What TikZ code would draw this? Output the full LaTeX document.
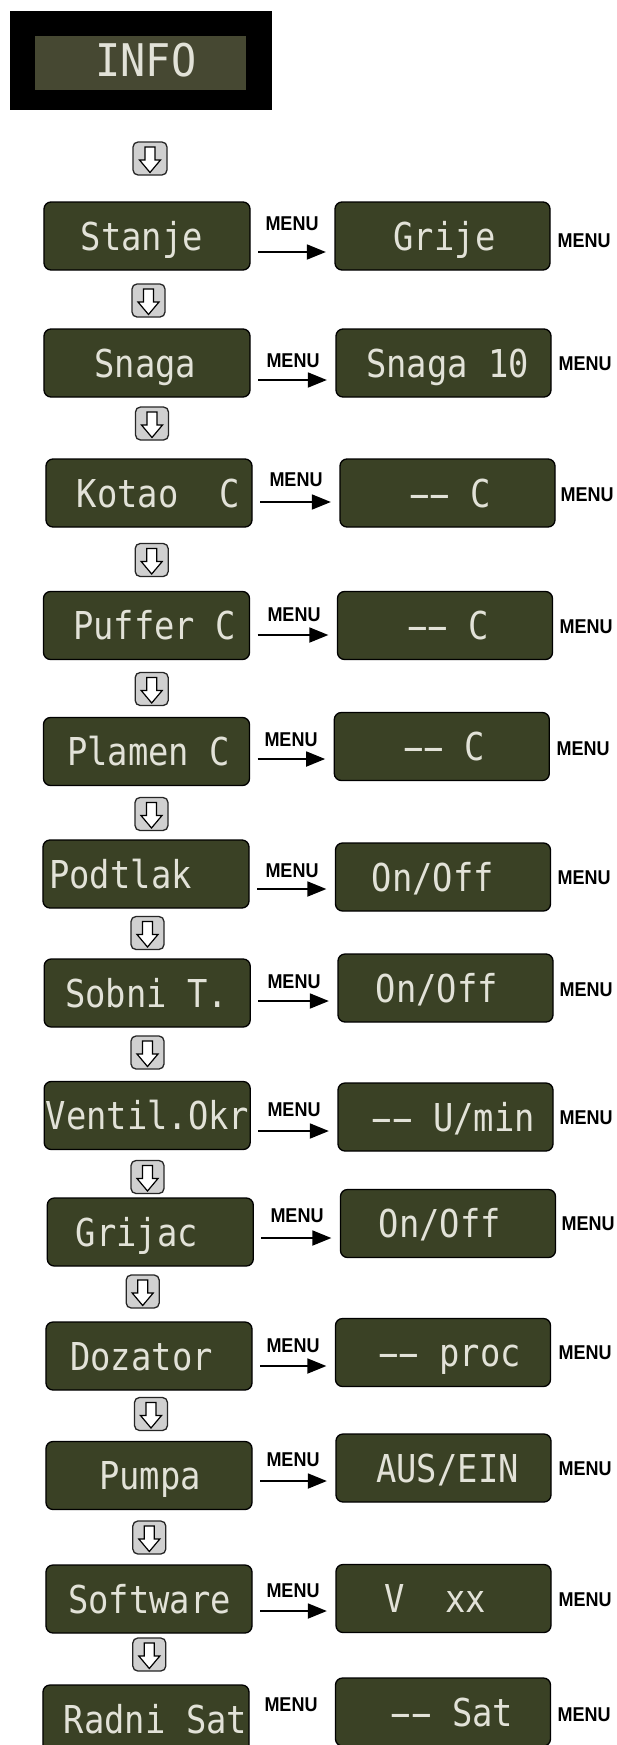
\documentclass[tikz,border=0pt]{standalone}
\usepackage{fontspec}
\usepackage{graphicx}
\usetikzlibrary{arrows.meta}
\newfontfamily\lcdfam[FakeStretch=0.88]{DejaVu Sans Mono}
\newfontfamily\infofam[FakeStretch=0.93]{DejaVu Sans Mono}
\newfontfamily\menufam[FakeStretch=0.9]{Liberation Sans Bold}
\newcommand\lcdfont{\lcdfam\fontsize{38.4bp}{40bp}\selectfont}
\newcommand\infofont{\infofam\fontsize{45bp}{48bp}\selectfont}
\newcommand\menufont{\menufam\fontsize{20bp}{22bp}\selectfont}
\newcommand\dsh{\makebox[20.34bp][c]{\scalebox{2.0}[1]{-}}}
\newcommand\dd{\dsh\dsh}
\definecolor{lcdgreen}{RGB}{58,65,37}
\definecolor{infogreen}{RGB}{70,72,50}
\definecolor{lcdtext}{RGB}{226,226,216}
\definecolor{btngray}{RGB}{208,208,208}
\tikzset{
  lbox/.style={rectangle, rounded corners=7bp, draw=black, line width=1.3bp,
    fill=lcdgreen, inner sep=0pt, minimum width=206bp, minimum height=68bp},
  rbox/.style={lbox, minimum width=215bp},
  lcdtxt/.style={anchor=base, inner sep=0pt, text=lcdtext, font=\lcdfont},
  infotxt/.style={anchor=base, inner sep=0pt, text=lcdtext, font=\infofont},
  menulbl/.style={font=\menufont, inner sep=0pt, anchor=center},
  menuarrow/.style={line width=1.8bp, -{Triangle[length=19bp,width=15bp]},
    shorten <=7.5bp, shorten >=8.5bp},
  downbtn/.style={rectangle, rounded corners=5bp, draw=black!85, line width=1.3bp,
    fill=btngray, minimum width=33bp, minimum height=33bp, inner sep=0pt,
    path picture={
      \draw[sharp corners, shift={(path picture bounding box.center)}, fill=white, draw=black,
        line width=1.2bp, line join=miter]
        (-5,-11.5) -- (5,-11.5) -- (5,1.5) -- (10.5,1.5) -- (0,14)
        -- (-10.5,1.5) -- (-5,1.5) -- cycle;
    }},
}
\begin{document}
\begin{tikzpicture}[x=1bp,y=-1bp]
\useasboundingbox (0,0) rectangle (617,1745);
\clip (0,0) rectangle (617,1745);
\fill[white] (0,0) rectangle (617,1745);

% INFO display
\node[rectangle, fill=black, minimum width=262bp, minimum height=99bp, inner sep=0pt] (INFO) at (141,60.5) {};
\node[rectangle, fill=infogreen, minimum width=211bp, minimum height=54bp, inner sep=0pt] (INFOin) at (140.5,63) {};
\node[infotxt] (INFOt) at (146,76.5) {INFO};

% down buttons
\node[downbtn, minimum width=34bp] (B0) at (150,158.5) {};
\node[downbtn] (B1) at (148.5,300.5) {};
\node[downbtn] (B2) at (152,423.5) {};
\node[downbtn] (B3) at (151.7,560) {};
\node[downbtn] (B4) at (151.7,689) {};
\node[downbtn] (B5) at (151.5,814) {};
\node[downbtn] (B6) at (147.5,933) {};
\node[downbtn] (B7) at (147.5,1052.5) {};
\node[downbtn] (B8) at (147.5,1177) {};
\node[downbtn] (B9) at (142.7,1291.5) {};
\node[downbtn] (B10) at (151,1414) {};
\node[downbtn] (B11) at (149.3,1537.5) {};
\node[downbtn] (B12) at (149.3,1654.5) {};

% row 1
\node[lbox] (L1) at (147,236) {};
\node[rbox] (R1) at (442.5,236) {};
\node[lcdtxt] (L1t) at (142,250) {Stanje};
\node[lcdtxt] (R1t) at (444.5,250) {Grije};
\draw[menuarrow] ([yshift=-16bp]L1.east) -- ([yshift=-16bp]L1.east -| R1.west);
\node[menulbl] (M1) at (292,224) {MENU};
\node[menulbl] (N1) at (584,241) {MENU};

% row 2
\node[lbox] (L2) at (147,363) {};
\node[rbox] (R2) at (443.5,363) {};
\node[lcdtxt] (L2t) at (145.4,377) {Snaga};
\node[lcdtxt] (R2t) at (447.6,377) {Snaga 10};
\draw[menuarrow] ([yshift=-17bp]L2.east) -- ([yshift=-17bp]L2.east -| R2.west);
\node[menulbl] (M2) at (293,361) {MENU};
\node[menulbl] (N2) at (585,364) {MENU};

% row 3
\node[lbox] (L3) at (149,493) {};
\node[rbox] (R3) at (447.5,493) {};
\node[lcdtxt] (L3t) at (158.3,507) {Kotao\ \ C};
\node[lcdtxt] (R3t) at (450,507) {\dd{} C};
\draw[menuarrow] ([yshift=-9bp]L3.east) -- ([yshift=-9bp]L3.east -| R3.west);
\node[menulbl] (M3) at (296,480) {MENU};
\node[menulbl] (N3) at (587,495) {MENU};

% row 4
\node[lbox] (L4) at (146.5,625.5) {};
\node[rbox] (R4) at (445,625.5) {};
\node[lcdtxt] (L4t) at (154.4,639.5) {Puffer C};
\node[lcdtxt] (R4t) at (448,639.5) {\dd{} C};
\draw[menuarrow] ([yshift=-9.5bp]L4.east) -- ([yshift=-9.5bp]L4.east -| R4.west);
\node[menulbl] (M4) at (294,615) {MENU};
\node[menulbl] (N4) at (586,627) {MENU};

% row 5
\node[lbox] (L5) at (146.5,751.5) {};
\node[rbox] (R5) at (441.8,746.5) {};
\node[lcdtxt] (L5t) at (148.5,765.5) {Plamen C};
\node[lcdtxt] (R5t) at (444,760.5) {\dd{} C};
\draw[menuarrow] ([yshift=-7.5bp]L5.east) -- ([yshift=-7.5bp]L5.east -| R5.west);
\node[menulbl] (M5) at (291,740) {MENU};
\node[menulbl] (N5) at (583,749) {MENU};

% row 6
\node[lbox] (L6) at (146,874) {};
\node[rbox] (R6) at (443,877) {};
\node[lcdtxt] (L6t) at (120.5,888) {Podtlak};
\node[lcdtxt] (R6t) at (433,891) {On/Off};
\draw[menuarrow] ([yshift=-15bp]L6.east) -- ([yshift=-15bp]L6.east -| R6.west);
\node[menulbl] (M6) at (292,871) {MENU};
\node[menulbl] (N6) at (584,878) {MENU};

% row 7
\node[lbox] (L7) at (147.2,993) {};
\node[rbox] (R7) at (445.5,988) {};
\node[lcdtxt] (L7t) at (146.5,1007) {Sobni T.};
\node[lcdtxt] (R7t) at (437,1002) {On/Off};
\draw[menuarrow] ([yshift=-8bp]L7.east) -- ([yshift=-8bp]L7.east -| R7.west);
\node[menulbl] (M7) at (294,982) {MENU};
\node[menulbl] (N7) at (586,990) {MENU};

% row 8
\node[lbox] (L8) at (147.2,1115.5) {};
\node[rbox] (R8) at (445.5,1117) {};
\node[lcdtxt] (L8t) at (147.5,1129.5) {Ventil.Okr};
\node[lcdtxt] (R8t) at (453.5,1131) {\dd{} U/min};
\draw[menuarrow] ([yshift=-15.5bp]L8.east) -- ([yshift=-15.5bp]L8.east -| R8.west);
\node[menulbl] (M8) at (294,1110) {MENU};
\node[menulbl] (N8) at (586,1118) {MENU};

% row 9
\node[lbox] (L9) at (150.3,1232) {};
\node[rbox] (R9) at (448,1223.5) {};
\node[lcdtxt] (L9t) at (136.7,1246) {Grijac};
\node[lcdtxt] (R9t) at (440,1237.5) {On/Off};
\draw[menuarrow] ([yshift=-6bp]L9.east) -- ([yshift=-6bp]L9.east -| R9.west);
\node[menulbl] (M9) at (297,1216) {MENU};
\node[menulbl] (N9) at (588,1224) {MENU};

% row 10
\node[lbox] (L10) at (149,1356) {};
\node[rbox] (R10) at (443,1352.5) {};
\node[lcdtxt] (L10t) at (141.5,1370) {Dozator};
\node[lcdtxt] (R10t) at (449.5,1366.5) {\dd{} proc};
\draw[menuarrow] ([yshift=-10bp]L10.east) -- ([yshift=-10bp]L10.east -| R10.west);
\node[menulbl] (M10) at (293,1346) {MENU};
\node[menulbl] (N10) at (585,1353) {MENU};

% row 11
\node[lbox] (L11) at (149,1475.5) {};
\node[rbox] (R11) at (443.5,1468) {};
\node[lcdtxt] (L11t) at (150,1489.5) {Pumpa};
\node[lcdtxt] (R11t) at (447.5,1482) {AUS/EIN};
\draw[menuarrow] ([yshift=-5.5bp]L11.east) -- ([yshift=-5.5bp]L11.east -| R11.west);
\node[menulbl] (M11) at (293,1460) {MENU};
\node[menulbl] (N11) at (585,1469) {MENU};

% row 12
\node[lbox] (L12) at (149,1599) {};
\node[rbox] (R12) at (443.5,1598.5) {};
\node[lcdtxt] (L12t) at (149.5,1613) {Software};
\node[lcdtxt] (R12t) at (435,1612.5) {V\ \ xx};
\draw[menuarrow] ([yshift=-12bp]L12.east) -- ([yshift=-12bp]L12.east -| R12.west);
\node[menulbl] (M12) at (293,1591) {MENU};
\node[menulbl] (N12) at (585,1600) {MENU};

% row 13
\node[lbox] (L13) at (146,1719) {};
\node[rbox] (R13) at (443,1712) {};
\node[lcdtxt] (L13t) at (155.5,1733) {Radni Sat};
\node[lcdtxt] (R13t) at (452,1726) {\dd{} Sat};
\node[menulbl] (M13) at (291,1705) {MENU};
\node[menulbl] (N13) at (584,1715) {MENU};
\end{tikzpicture}
\end{document}
